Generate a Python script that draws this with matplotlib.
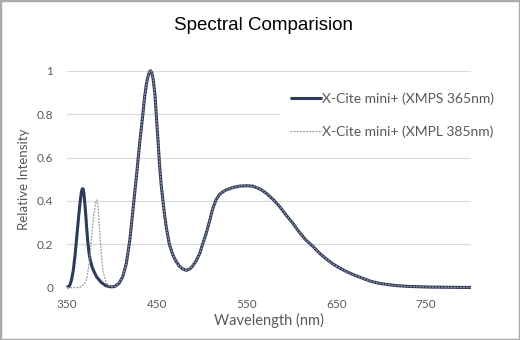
import matplotlib
matplotlib.use('Agg')
import matplotlib.pyplot as plt
from matplotlib.patches import Rectangle

# 读图得到的数据点 (nm, 相对强度)
# 365nm 版本在 403nm 以前的部分
xmps_head_nm = [350, 353, 355, 357, 359, 361, 363, 364.5, 366, 367, 368, 369, 370, 371, 372, 373, 374.5,
                376, 378, 380, 383, 388, 393, 398]
xmps_head_val = [0.0, 0.01, 0.035, 0.08, 0.15, 0.24, 0.33, 0.39, 0.44, 0.456, 0.455, 0.43, 0.38, 0.33,
                 0.27, 0.22, 0.16, 0.125, 0.095, 0.075, 0.05, 0.025, 0.01, 0.004]

# 385nm 版本在 403nm 以前的部分
xmpl_head_nm = [350, 360, 365, 369, 372, 375, 377.5, 380, 382, 383, 384.5, 386.5, 388.5, 390, 393, 396, 399]
xmpl_head_val = [0.0, 0.0, 0.003, 0.015, 0.04, 0.12, 0.24, 0.34, 0.395, 0.404, 0.38, 0.25, 0.14, 0.08, 0.03, 0.01, 0.004]

# 两条曲线重合的部分 (403nm 以后)
common_nm = [403, 408, 412, 416, 420, 425, 428, 431, 434, 436.5, 438.5, 440, 441.5, 443, 444.5, 446,
             448, 450, 451.5, 453, 455, 458, 460.5, 464, 468, 471, 475, 479, 483, 487, 490, 494, 498,
             501, 505, 509, 512, 516, 520, 524, 527, 531, 535, 542, 550, 557, 565, 572, 580,
             587, 594, 601, 608, 616, 624, 631, 638, 646, 654, 661, 670, 679, 688, 698, 708,
             716, 730, 753, 775, 800]
common_val = [0.005, 0.02, 0.05, 0.11, 0.22, 0.42, 0.54, 0.67, 0.78, 0.88, 0.94, 0.97, 0.99, 1.0, 0.99, 0.96,
              0.89, 0.76, 0.67, 0.57, 0.47, 0.36, 0.28, 0.2, 0.15, 0.125, 0.10, 0.086, 0.08, 0.087, 0.10, 0.125, 0.16,
              0.2, 0.25, 0.31, 0.36, 0.405, 0.43, 0.443, 0.45, 0.456, 0.462, 0.468, 0.47, 0.468, 0.455, 0.435, 0.405,
              0.373, 0.335, 0.30, 0.26, 0.22, 0.19, 0.16, 0.135, 0.11, 0.09, 0.075, 0.058, 0.044, 0.03, 0.02, 0.014,
              0.01, 0.006, 0.003, 0.002, 0.001]

x_ticks = [350, 450, 550, 650, 750]
y_ticks = [0, 0.2, 0.4, 0.6, 0.8, 1]
y_ticklabels = ['0', '0.2', '0.4', '0.6', '0.8', '1']

label_365 = 'X-Cite mini+ (XMPS 365nm)'
label_385 = 'X-Cite mini+ (XMPL 385nm)'

font = ['Lato', 'DejaVu Sans']

fig = plt.figure(figsize=(5.2, 3.4), dpi=100)
ax = fig.add_axes([67 / 520, 1 - 287.7 / 340, 404 / 520, 217 / 340])

ax.plot(xmps_head_nm + common_nm, xmps_head_val + common_val, color='#2e3a59', lw=2.2,
        label=label_365, clip_on=False, zorder=3, solid_capstyle='butt', solid_joinstyle='round')
ax.plot(xmpl_head_nm + common_nm, xmpl_head_val + common_val, color='#9a9aa6', lw=0.9,
        linestyle=(0, (1.5, 1)), label=label_385, clip_on=False, zorder=4)

ax.set_xlim(350, 800)
ax.set_ylim(0, 1)
ax.set_xticks(x_ticks)
ax.set_yticks(y_ticks)
ax.set_yticklabels(y_ticklabels)
for s in ax.spines.values():
    s.set_visible(False)
ax.grid(axis='y', color='#d9d9d9', lw=0.8)
ax.set_axisbelow(True)
ax.tick_params(length=0, colors='#595959', labelsize=8.5)
ax.tick_params(axis='y', pad=10)
ax.tick_params(axis='x', pad=8)
for t in ax.get_xticklabels() + ax.get_yticklabels():
    t.set_family(font)

ax.set_ylabel('Relative Intensity', family=font, fontsize=9.5, color='#595959')
ax.yaxis.set_label_coords(-0.092, 0.5)
ax.set_xlabel('Wavelength (nm)', family=font, fontsize=10.5, color='#595959')
ax.xaxis.set_label_coords(0.5, -0.118)

fig.text(264 / 520, 1 - 25 / 340, 'Spectral Comparision', ha='center', va='center',
         family=['Liberation Sans', 'DejaVu Sans'], fontsize=13.5, color='black')

leg = ax.legend(loc='center left', bbox_to_anchor=(273 / 520, 1 - 115 / 340),
                bbox_transform=fig.transFigure, frameon=True, facecolor='white',
                edgecolor='none', framealpha=1, fancybox=False, borderpad=0.7,
                handlelength=2.3, handletextpad=0.05, labelspacing=1.5,
                prop={'family': font, 'size': 10})
for t in leg.get_texts():
    t.set_color('#595959')

fig.add_artist(Rectangle((0, 0), 1, 1, transform=fig.transFigure, fill=False,
                         ec='#ababab', lw=2.5))

fig.savefig('out.png', dpi=100)
